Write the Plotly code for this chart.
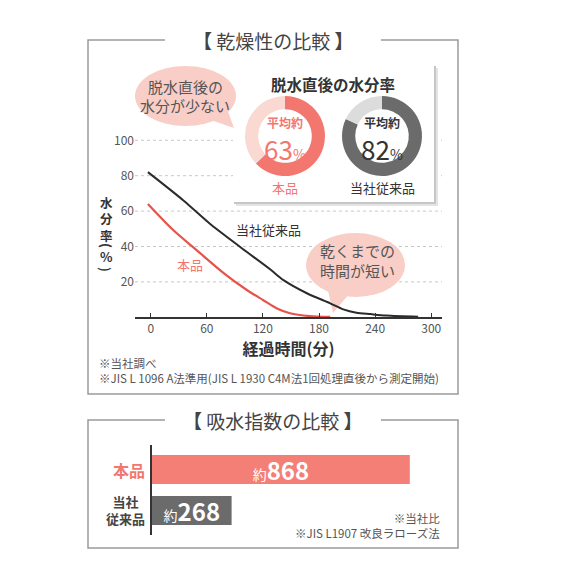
import plotly.graph_objects as go

# drying curves (minutes, moisture %)
old_t = [-3, 35, 63, 95, 128, 142, 167, 192, 206, 220, 235, 252, 286]
old_y = [82, 66, 53, 40, 27, 21, 13.6, 7.9, 4.5, 2.6, 1.8, 1.0, 0.3]
new_t = [-3, 24, 49, 78, 104, 120, 135, 149, 170, 192]
new_y = [64, 49.3, 38, 25, 15, 9.8, 5, 2.3, 0.7, 0.2]
x_ticks = [0, 60, 120, 180, 240, 300]
y_ticks = [20, 40, 60, 80, 100]

# moisture right after spin dry (%)
donut_new = [63, 37]
donut_old = [82, 18]

# water absorption index
bar_cats = ['当社従来品', '本品']
bar_vals = [268, 868]
bar_labels = ["<b>当社<br>従来品</b>", "<b>本品</b>"]

FONT = 'Noto Sans CJK JP'
SALMON = '#f2776f'
PINK = '#fbd9d3'
BUBBLE = '#f9cec6'
GRAY = '#6b6b6b'
W = H = 554  # page body keeps an 8px margin


def px(x):
    return (x - 8) / W


def py(y):
    return 1 - (y - 8) / H


fig = go.Figure()

# line chart
fig.add_trace(go.Scatter(x=old_t, y=old_y, mode='lines', line=dict(color='#2b2b2b', width=2, shape='spline', smoothing=0.8),
                         xaxis='x', yaxis='y', hoverinfo='skip'))
fig.add_trace(go.Scatter(x=new_t, y=new_y, mode='lines', line=dict(color='#e5534b', width=2.2, shape='spline', smoothing=0.8),
                         xaxis='x', yaxis='y', hoverinfo='skip'))

# empty trace so the inset panel gets its own white background above the grid
fig.add_trace(go.Scatter(x=[], y=[], xaxis='x2', yaxis='y2', hoverinfo='skip'))

# donuts
fig.add_trace(go.Pie(values=donut_new, marker=dict(colors=[SALMON, PINK], line=dict(width=0)), hole=0.67, sort=False,
                     direction='clockwise', rotation=0, textinfo='none', hoverinfo='skip',
                     domain=dict(x=[px(245), px(325)], y=[py(176), py(96)])))
fig.add_trace(go.Pie(values=donut_old, marker=dict(colors=[GRAY, '#dcdcdc'], line=dict(width=0)), hole=0.67, sort=False,
                     direction='clockwise', rotation=0, textinfo='none', hoverinfo='skip',
                     domain=dict(x=[px(342), px(422)], y=[py(176), py(96)])))

# bars
bar_text = [f"<span style='font-size:14px'>約</span><b>{v}</b>" for v in bar_vals]
fig.add_trace(go.Bar(y=bar_cats, x=bar_vals, orientation='h', marker=dict(color=[GRAY, '#f47f76'], line=dict(width=0)),
                     width=0.71, text=bar_text, textposition='inside', insidetextanchor='middle', constraintext='none',
                     textfont=dict(color='white', size=24, family=FONT), xaxis='x3', yaxis='y3', hoverinfo='skip'))

shapes = []
# dotted grid lines (drawn as lower shapes so the inset covers them)
for v in y_ticks:
    shapes.append(dict(type='line', xref='paper', yref='y', x0=px(135), x1=px(442), y0=v, y1=v, layer='below',
                       line=dict(color='#c8c8c8', width=1, dash='dot')))
# inset shadow
shapes.append(dict(type='rect', xref='paper', yref='paper', x0=px(236), x1=px(438), y0=py(206), y1=py(68), layer='below',
                   fillcolor='#e4e4e4', line=dict(width=0)))
shapes.append(dict(type='rect', xref='paper', yref='paper', x0=px(234), x1=px(436), y0=py(204), y1=py(66), layer='below',
                   fillcolor='#c6c6c6', line=dict(width=0)))
# bubble 2 (below the lines)
shapes.append(dict(type='circle', xref='paper', yref='paper', x0=px(306), x1=px(405), y0=py(297), y1=py(233), layer='below',
                   fillcolor=BUBBLE, line=dict(width=0)))
shapes.append(dict(type='path', xref='paper', yref='paper', layer='below', fillcolor=BUBBLE, line=dict(width=0),
                   path=f'M {px(327)} {py(286)} L {px(333)} {py(313)} L {px(350)} {py(293)} Z'))
# bubble 1
shapes.append(dict(type='circle', xref='paper', yref='paper', x0=px(135), x1=px(236), y0=py(126), y1=py(66), layer='above',
                   fillcolor=BUBBLE, line=dict(width=0)))
shapes.append(dict(type='path', xref='paper', yref='paper', layer='above', fillcolor=BUBBLE, line=dict(width=0),
                   path=f'M {px(208)} {py(119)} L {px(234)} {py(128)} L {px(226)} {py(106)} Z'))
# panel frames with gaps for the titles
for top, bottom in [(40, 394), (420, 548)]:
    shapes.append(dict(type='path', xref='paper', yref='paper', layer='below', line=dict(color='#9a9a9a', width=1.5),
                       path=f'M {px(165)} {py(top)} L {px(88)} {py(top)} L {px(88)} {py(bottom)} L {px(458)} {py(bottom)} '
                            f'L {px(458)} {py(top)} L {px(381)} {py(top)}'))


def note(x, y, text, size=13, color='#444', xanchor='center', align='center', angle=0):
    return dict(x=px(x), y=py(y), xref='paper', yref='paper', text=text, showarrow=False, xanchor=xanchor,
                yanchor='middle', align=align, textangle=angle, font=dict(family=FONT, size=size, color=color))


annotations = [
    note(273, 40, '<b>【</b> 乾燥性の比較 <b>】</b>', 19, '#444'),
    note(273, 420, '<b>【</b> 吸水指数の比較 <b>】</b>', 19, '#444'),
    note(185, 86, '脱水直後の', 15, '#555'),
    note(185, 106, '水分が少ない', 15, '#555'),
    note(357, 250, '乾くまでの', 15, '#555'),
    note(357, 270, '時間が短い', 15, '#555'),
    note(333, 84, '<b>脱水直後の水分率</b>', 15.5, '#333'),
    note(285, 122, '<b>平均約</b>', 12, SALMON),
    note(285, 148, f"{donut_new[0]}<span style='font-size:14px'>%</span>", 26, SALMON),
    note(382, 122, '<b>平均約</b>', 12, '#333'),
    note(382, 148, f"{donut_old[0]}<span style='font-size:14px'>%</span>", 26, '#333'),
    note(285, 188, '本品', 13, SALMON),
    note(382, 188, '当社従来品', 13, '#333'),
    note(268, 229, '当社従来品', 13, '#333'),
    note(190, 265, '本品', 13, SALMON),
    note(97, 363, '※当社調べ', 11.5, '#555', 'left'),
    note(97, 378, '※JIS L 1096 A法準用(JIS L 1930 C4M法1回処理直後から測定開始)', 11.5, '#555', 'left'),
    note(442, 525, '※当社比<br>※JIS L1907 改良ラローズ法', 11.5, '#555', 'right', 'right'),
    # vertical y-axis title
    note(106, 219, '<b>水<br>分<br>率</b>', 12.5, '#333'),
    note(106, 245, '<b>(</b>', 13, '#333', angle=90),
    note(106, 257, '<b>%</b>', 13, '#333'),
    note(106, 269, '<b>)</b>', 13, '#333', angle=90),
]
# bar category labels, placed on the category axis
for cat, lab, size, col in zip(bar_cats, bar_labels, [13, 16], ['#444', SALMON]):
    annotations.append(dict(x=px(147), xref='paper', y=cat, yref='y3', text=lab, showarrow=False, xanchor='right',
                            yanchor='middle', align='center', font=dict(family=FONT, size=size, color=col)))

fig.update_layout(
    width=W, height=H, margin=dict(l=0, r=0, t=0, b=0),
    paper_bgcolor='white', plot_bgcolor='white', showlegend=False,
    font=dict(family=FONT, color='#555'),
    shapes=shapes, annotations=annotations,
    xaxis=dict(domain=[px(135), px(442)], range=[-16.8, 311.5], tickvals=x_ticks, ticks='inside', ticklen=5,
               tickcolor='#333', showline=True, linecolor='#333', linewidth=1.5, showgrid=False, zeroline=False,
               tickfont=dict(size=12, color='#555'), anchor='y',
               title=dict(text='<b>経過時間(分)</b>', font=dict(size=16, color='#333'), standoff=4)),
    yaxis=dict(domain=[py(317.3), py(131.45)], range=[0, 105], tickvals=y_ticks, showline=False, ticks='',
               showgrid=False, zeroline=False, tickfont=dict(size=12, color='#555'), anchor='x'),
    xaxis2=dict(domain=[px(233), px(434)], visible=False, anchor='y2'),
    yaxis2=dict(domain=[py(202), py(65)], visible=False, anchor='x2'),
    xaxis3=dict(domain=[px(152), px(441)], range=[0, 973], visible=False, anchor='y3'),
    yaxis3=dict(domain=[py(535), py(445)], range=[-0.6, 1.6], type='category', categoryorder='array',
                categoryarray=bar_cats, showticklabels=False, showline=True, linecolor='#333', linewidth=1.5,
                ticks='', showgrid=False, zeroline=False, anchor='x3'),
)

fig.write_html('out.html')
